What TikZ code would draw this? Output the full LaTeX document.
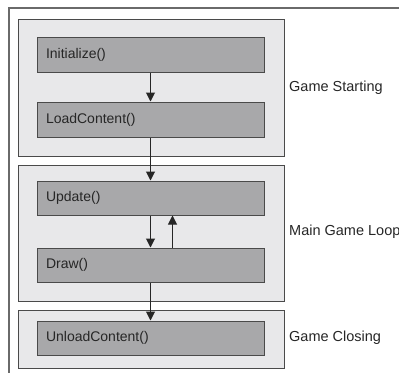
\documentclass[tikz,border=0pt]{standalone}
\usepackage{fontspec}
\setmainfont{Liberation Sans}
\usetikzlibrary{arrows.meta}
\definecolor{grpfill}{HTML}{E8E8EA}
\definecolor{boxfill}{HTML}{A8A8AA}
\definecolor{linec}{HTML}{4A4A4A}
\definecolor{framec}{HTML}{6A6A6A}
\tikzset{
  grp/.style={draw=linec, line width=1pt, fill=grpfill, minimum width=266pt, inner sep=0pt},
  fnbox/.style={draw=linec, line width=1pt, fill=boxfill, minimum width=227pt, text width=209pt, align=left, inner sep=0pt, inner xsep=9pt, font=\fontsize{14}{16}\selectfont, text=black!85},
  lbl/.style={anchor=west, inner sep=0pt, font=\fontsize{14.5}{16}\selectfont, text=black!85},
  flow/.style={draw=black!85, line width=1pt, -{Triangle[length=9pt,width=9pt]}}
}
\begin{document}
\begin{tikzpicture}[x=1pt,y=-1pt]
\useasboundingbox (0,0) rectangle (399,373);
\coordinate (fr1) at (399,8);
\coordinate (fr2) at (9,8);
\coordinate (fr3) at (9,373);
\draw[framec, line width=1.5pt] (fr1) -- (fr2) -- (fr3);

\node[grp, minimum height=137pt] (g1) at (151,87.5) {};
\node[grp, minimum height=136pt] (g2) at (151,233) {};
\node[grp, minimum height=58pt] (g3) at (151,339) {};

\node[fnbox, minimum height=35pt] (init) at (150.5,54.5) {Initialize()};
\node[fnbox, minimum height=35pt] (load) at (150.5,119.5) {LoadContent()};
\node[fnbox, minimum height=34pt] (upd) at (150.5,198) {Update()};
\node[fnbox, minimum height=34pt] (drw) at (150.5,265) {Draw()};
\node[fnbox, minimum height=34pt] (unl) at (150.5,338) {UnloadContent()};

\node[lbl] (l1) at (289,88) {Game Starting};
\node[lbl] (l2) at (289,232) {Main Game Loop};
\node[lbl] (l3) at (289,338) {Game Closing};

\draw[flow] (init.south) -- (load.north);
\draw[flow] (load.south) -- (upd.north);
\draw[flow] (upd.south) -- (drw.north);
\draw[flow] ([xshift=22pt]drw.north) -- ([xshift=22pt]upd.south);
\draw[flow] (drw.south) -- (unl.north);
\end{tikzpicture}
\end{document}
